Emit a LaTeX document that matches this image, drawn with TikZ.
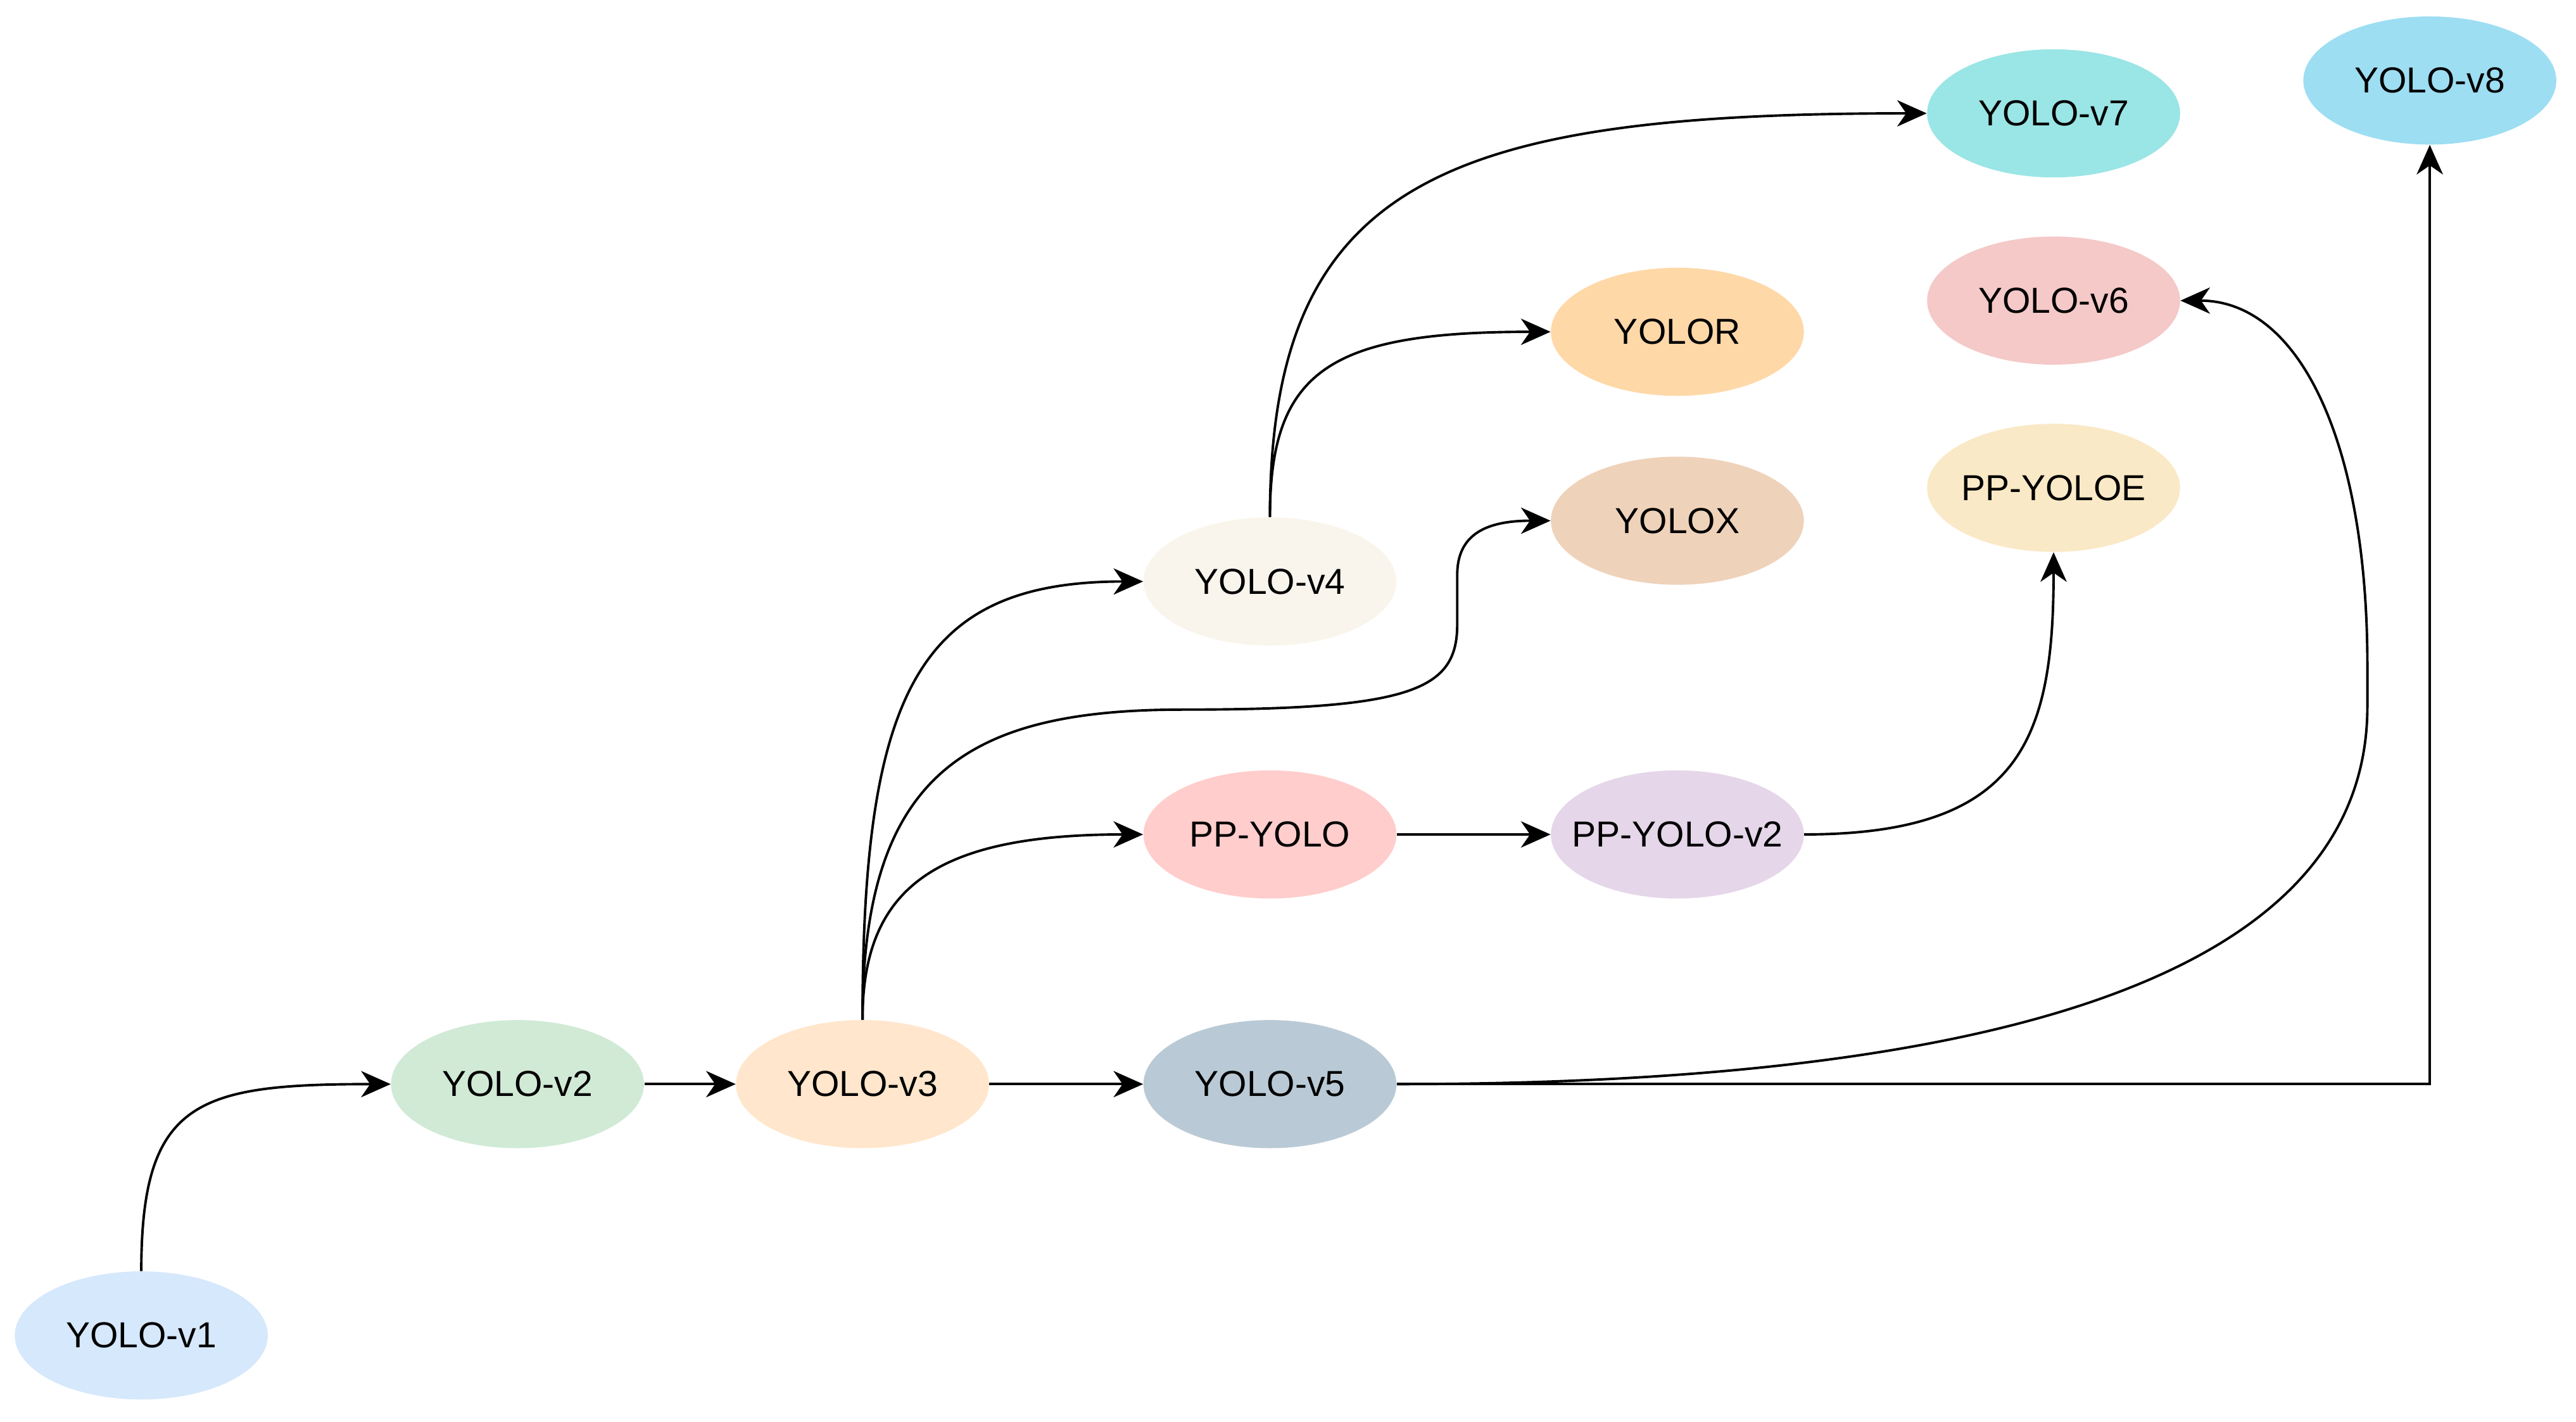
\documentclass[tikz,border=0pt]{standalone}
\usepackage{fontspec}
\setmainfont{Liberation Sans}
\usetikzlibrary{shapes.geometric,arrows.meta}
\definecolor{cA}{HTML}{D6E8FB}
\definecolor{cB}{HTML}{D0EAD6}
\definecolor{cC}{HTML}{FFE6CC}
\definecolor{cD}{HTML}{F9F5EC}
\definecolor{cE}{HTML}{FFCDCC}
\definecolor{cF}{HTML}{E5D6E9}
\definecolor{cG}{HTML}{B9CAD6}
\definecolor{cH}{HTML}{EFD2BA}
\definecolor{cI}{HTML}{FFD8A8}
\definecolor{cJ}{HTML}{FAE9C6}
\definecolor{cK}{HTML}{F4C9C8}
\definecolor{cL}{HTML}{9AE5E5}
\definecolor{cM}{HTML}{9DDEF2}
\newcommand{\lbl}[1]{\makebox[0pt]{#1}}
\begin{document}
\begin{tikzpicture}[x=1pt,y=-1pt,
  model/.style={ellipse,minimum width=154pt,minimum height=78pt,inner sep=0pt,
    font=\fontsize{22}{24}\selectfont},
  link/.style={line width=1.5pt,-{Stealth[length=18pt,width=16pt,inset=5.5pt]}}]
\useasboundingbox (0,0) rectangle (1568,865.7);
\node[model,fill=cA] (v1) at (86,813) {\lbl{YOLO-v1}};
\node[model,fill=cB] (v2) at (315,660) {\lbl{YOLO-v2}};
\node[model,fill=cC] (v3) at (525,660) {\lbl{YOLO-v3}};
\node[model,fill=cG] (v5) at (773,660) {\lbl{YOLO-v5}};
\node[model,fill=cE] (pp) at (773,508) {\lbl{PP-YOLO}};
\node[model,fill=cF] (pp2) at (1021,508) {\lbl{PP-YOLO-v2}};
\node[model,fill=cD] (v4) at (773,354) {\lbl{YOLO-v4}};
\node[model,fill=cH] (yx) at (1021,317) {\lbl{YOLOX}};
\node[model,fill=cI] (yr) at (1021,202) {\lbl{YOLOR}};
\node[model,fill=cJ] (ppe) at (1250,297) {\lbl{PP-YOLOE}};
\node[model,fill=cK] (v6) at (1250,183) {\lbl{YOLO-v6}};
\node[model,fill=cL] (v7) at (1250,69) {\lbl{YOLO-v7}};
\node[model,fill=cM] (v8) at (1479,49) {\lbl{YOLO-v8}};

\draw[link] (v1.north) .. controls (86,670) and (120,660) .. (v2.west);
\draw[link] (v2.east) -- (v3.west);
\draw[link] (v3.east) -- (v5.west);
\draw[link] (v3.north) .. controls (525,420) and (560,354) .. (v4.west);
\draw[link] (v3.north) .. controls (525,540) and (570,508) .. (pp.west);
\draw[link] (v3.north) .. controls (525,470) and (590,432) .. (720,432)
  .. controls (860,432) and (887,420) .. (887,380) -- (887,350)
  .. controls (887,325) and (905,317) .. (yx.west);
\draw[link] (pp.east) -- (pp2.west);
\draw[link] (pp2.east) .. controls (1230,508) and (1250,450) .. (ppe.south);
\draw[link] (v4.north) .. controls (773,225) and (810,202) .. (yr.west);
\draw[link] (v4.north) .. controls (773,110) and (880,69) .. (v7.west);
\draw[link] (v5.east) .. controls (1300,660) and (1441,560) .. (1441,430) -- (1441,405)
  .. controls (1441,270) and (1400,183) .. (v6.east);
\draw[link] (v5.east) -| (v8.south);
\end{tikzpicture}
\end{document}
